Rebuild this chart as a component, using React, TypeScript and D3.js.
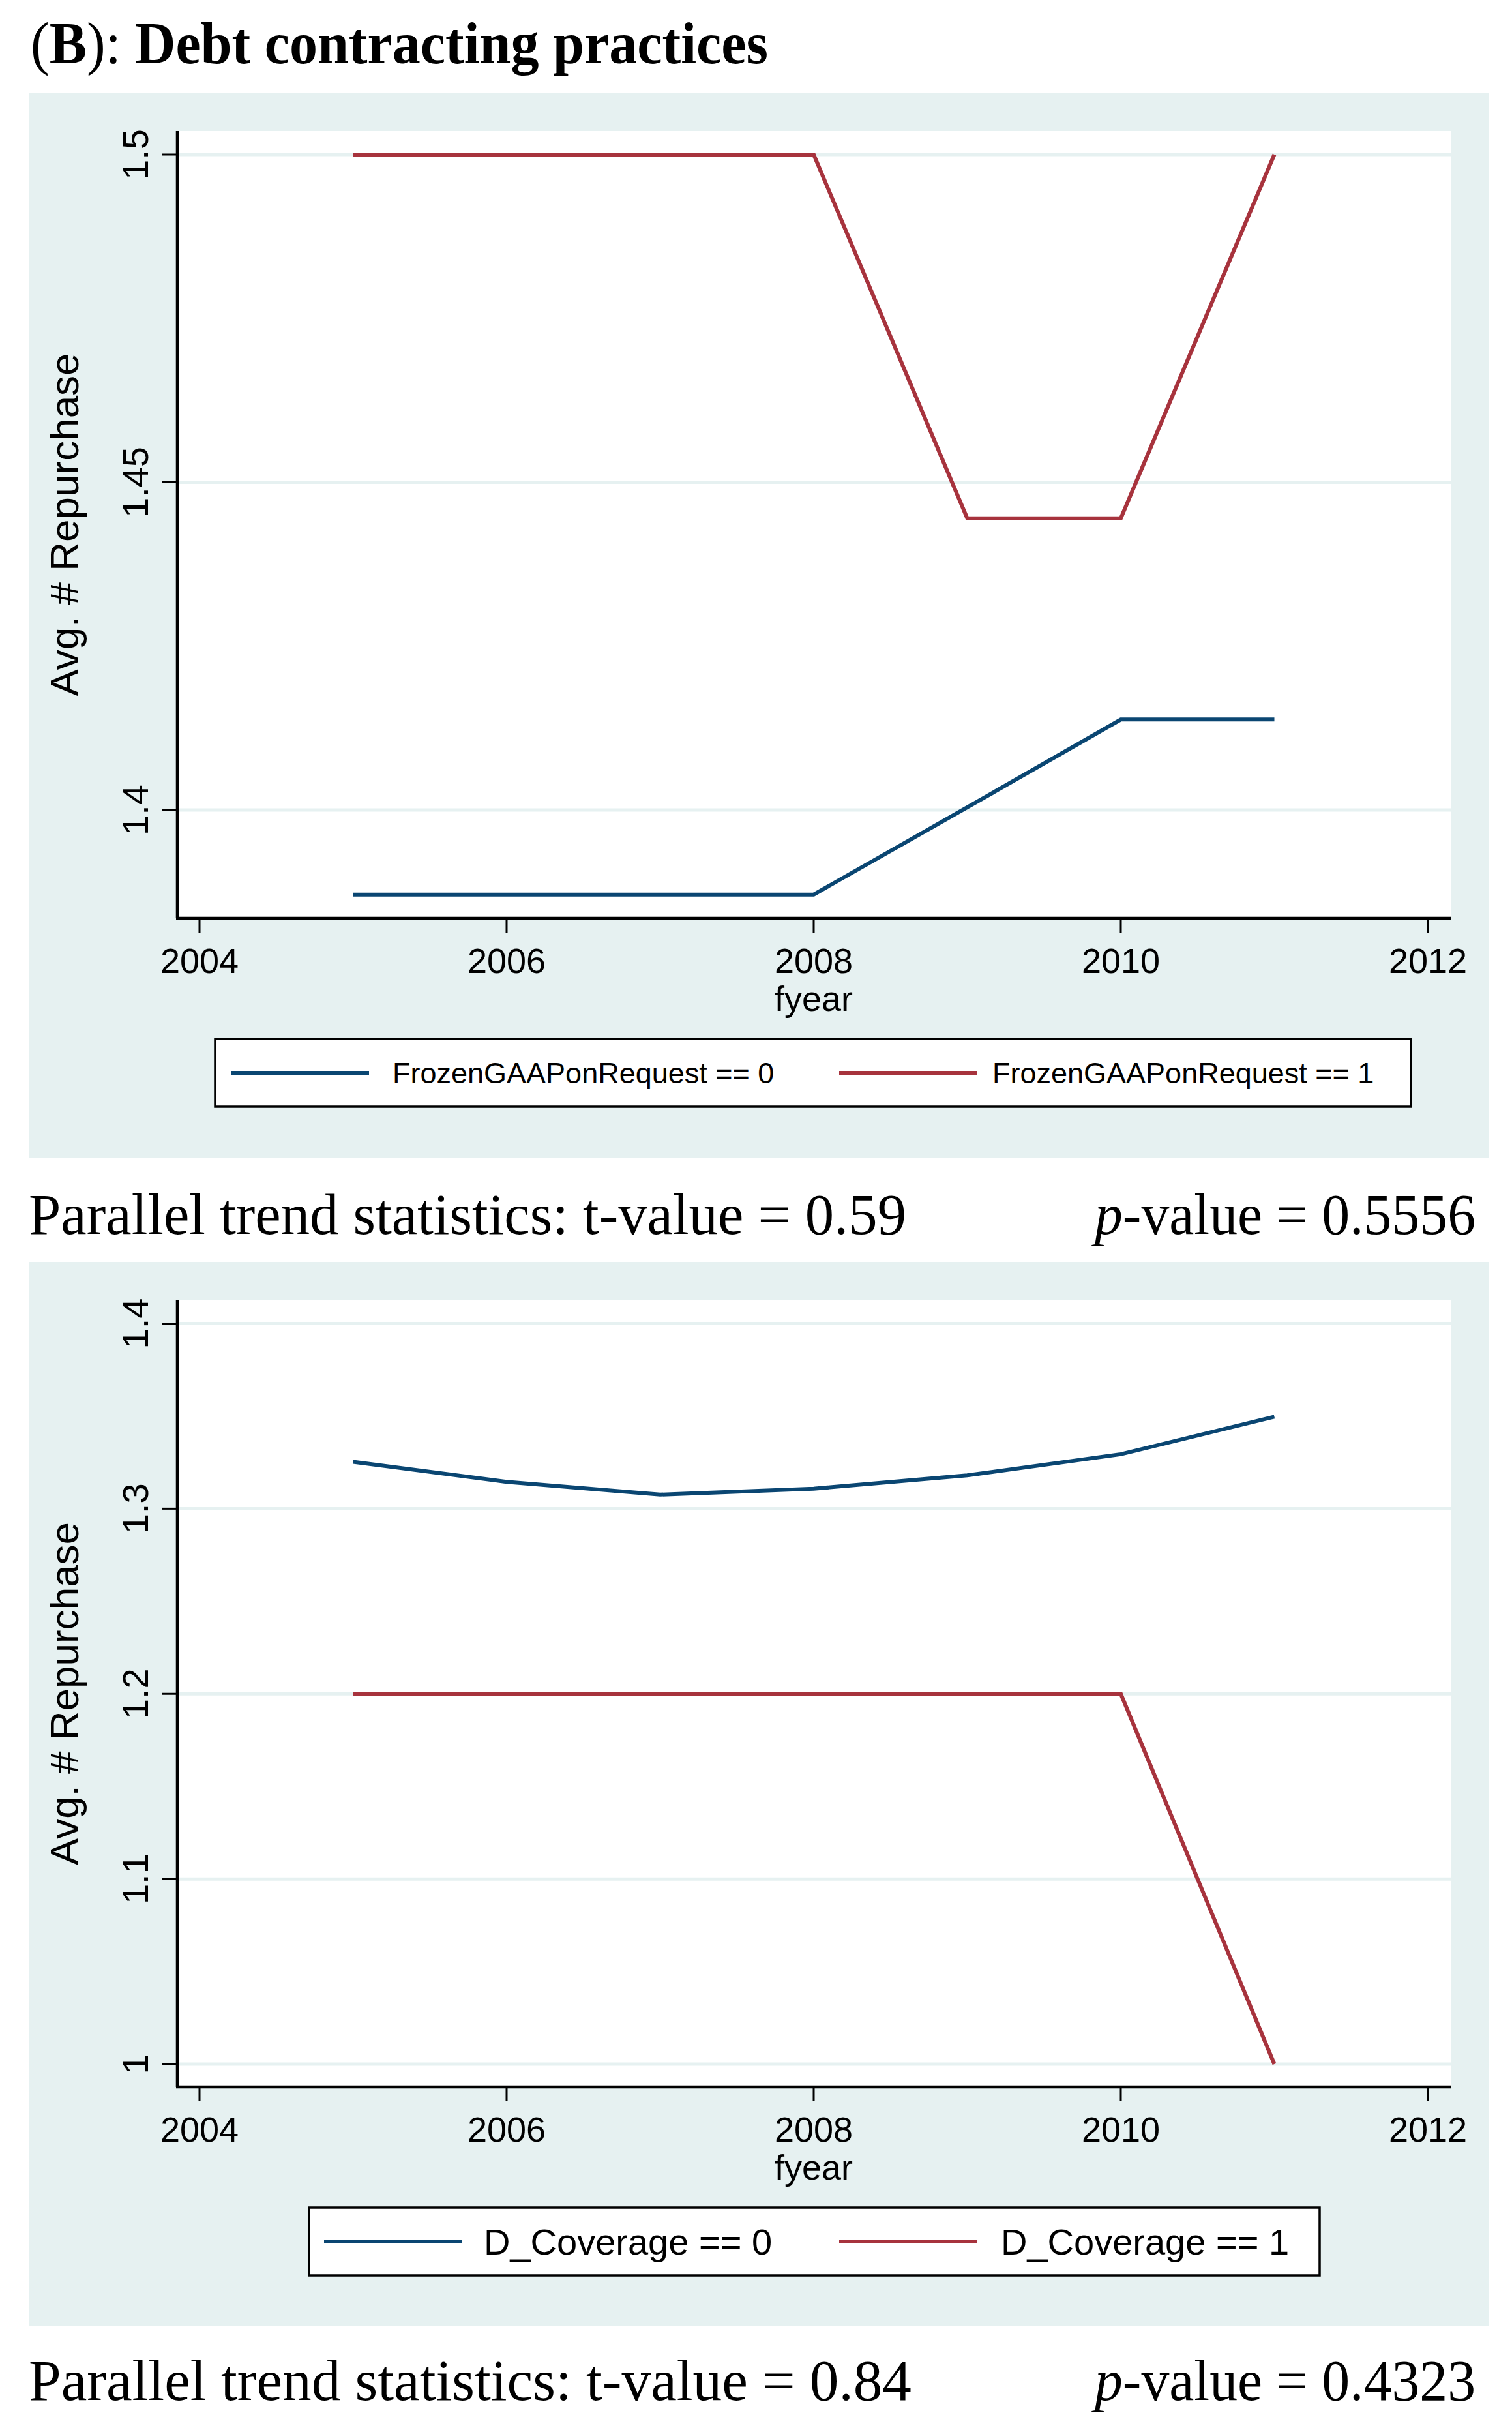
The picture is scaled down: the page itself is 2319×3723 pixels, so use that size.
import React from "react";
import * as d3 from "d3";

// years on the x axis
const years = [2005, 2006, 2007, 2008, 2009, 2010, 2011];
const xTicks = [2004, 2006, 2008, 2010, 2012];

// panel 1: FrozenGAAPonRequest
const frozen0 = [1.3871, 1.3871, 1.3871, 1.3871, 1.4004, 1.4138, 1.4138];
const frozen1 = [1.5, 1.5, 1.5, 1.5, 1.4445, 1.4445, 1.5];
const yTicksTop = [1.4, 1.45, 1.5];
const yTickLabelsTop = ["1.4", "1.45", "1.5"];
const legendTop = ["FrozenGAAPonRequest == 0", "FrozenGAAPonRequest == 1"];
const statsTop = ["0.59", "0.5556"];

// panel 2: D_Coverage
const coverage0 = [1.3253, 1.3145, 1.3076, 1.3108, 1.318, 1.3294, 1.3497];
const coverage1 = [1.2, 1.2, 1.2, 1.2, 1.2, 1.2, 1.0];
const yTicksBottom = [1.0, 1.1, 1.2, 1.3, 1.4];
const yTickLabelsBottom = ["1", "1.1", "1.2", "1.3", "1.4"];
const legendBottom = ["D_Coverage == 0", "D_Coverage == 1"];
const statsBottom = ["0.84", "0.4323"];

const BG = "#e6f1f1";
const NAVY = "#0a4672";
const MAROON = "#a7333d";
const SANS = "'Liberation Sans', Arial, sans-serif";
const SERIF = "'Liberation Serif', 'Times New Roman', serif";

interface PanelProps {
  top: number; // y of panel background
  bgBottom: number;
  plotTop: number;
  plotBottom: number;
  yDomain: [number, number];
  yRange: [number, number];
  yTicks: number[];
  yLabels: string[];
  s0: number[];
  s1: number[];
  legend: string[];
  legendBox: { x0: number; x1: number; y0: number; y1: number };
  legendFont: number;
  legendItems: { l0: number; l1: number; t: number }[];
  stats: string[];
  statsY: number;
  statsWidth: number;
}

const plotLeft = 272;
const plotRight = 2226;
const xScale = d3.scaleLinear().domain([2004, 2012]).range([306, 2190]);

const Panel: React.FC<PanelProps> = (p) => {
  const y = d3.scaleLinear().domain(p.yDomain).range(p.yRange);
  const line = d3
    .line<number>()
    .x((_, i) => xScale(years[i]))
    .y((d) => y(d));
  const midY = (p.plotTop + p.plotBottom) / 2;
  const lb = p.legendBox;
  const legendY = (lb.y0 + lb.y1) / 2;
  const colors = [NAVY, MAROON];

  return (
    <g>
      <rect x={44} y={p.top} width={2283 - 44} height={p.bgBottom - p.top} fill={BG} />
      <rect
        x={plotLeft}
        y={p.plotTop}
        width={plotRight - plotLeft}
        height={p.plotBottom - p.plotTop}
        fill="#fff"
      />
      {/* grid */}
      {p.yTicks.map((t) => (
        <line
          key={"g" + t}
          x1={plotLeft}
          x2={plotRight}
          y1={y(t)}
          y2={y(t)}
          stroke={BG}
          strokeWidth={5}
        />
      ))}
      {/* series */}
      <path d={line(p.s0) ?? ""} fill="none" stroke={NAVY} strokeWidth={6} strokeLinejoin="miter" />
      <path d={line(p.s1) ?? ""} fill="none" stroke={MAROON} strokeWidth={6} strokeLinejoin="miter" />
      {/* y axis */}
      <line x1={plotLeft} x2={plotLeft} y1={p.plotTop} y2={p.plotBottom} stroke="#000" strokeWidth={4.5} />
      {p.yTicks.map((t, i) => (
        <g key={"y" + t}>
          <line x1={248} x2={plotLeft} y1={y(t)} y2={y(t)} stroke="#000" strokeWidth={3} />
          <text
            transform={`translate(227,${y(t)}) rotate(-90)`}
            textAnchor="middle"
            fontFamily={SANS}
            fontSize={56}
          >
            {p.yLabels[i]}
          </text>
        </g>
      ))}
      <text
        transform={`translate(120,${midY}) rotate(-90)`}
        textAnchor="middle"
        fontFamily={SANS}
        fontSize={62}
      >
        Avg. # Repurchase
      </text>
      {/* x axis */}
      <line x1={plotLeft - 2} x2={plotRight} y1={p.plotBottom} y2={p.plotBottom} stroke="#000" strokeWidth={4.5} />
      {xTicks.map((t) => (
        <g key={"x" + t}>
          <line
            x1={xScale(t)}
            x2={xScale(t)}
            y1={p.plotBottom}
            y2={p.plotBottom + 22}
            stroke="#000"
            strokeWidth={3}
          />
          <text x={xScale(t)} y={p.plotBottom + 84} textAnchor="middle" fontFamily={SANS} fontSize={54}>
            {t}
          </text>
        </g>
      ))}
      <text x={xScale(2008)} y={p.plotBottom + 142} textAnchor="middle" fontFamily={SANS} fontSize={54}>
        fyear
      </text>
      {/* legend */}
      <rect
        x={lb.x0}
        y={lb.y0}
        width={lb.x1 - lb.x0}
        height={lb.y1 - lb.y0}
        fill="#fff"
        stroke="#000"
        strokeWidth={3.5}
      />
      {p.legendItems.map((it, i) => (
        <g key={"l" + i}>
          <line x1={it.l0} x2={it.l1} y1={legendY} y2={legendY} stroke={colors[i]} strokeWidth={6} />
          <text x={it.t} y={legendY + p.legendFont * 0.36} fontFamily={SANS} fontSize={p.legendFont}>
            {p.legend[i]}
          </text>
        </g>
      ))}
      {/* parallel trend statistics */}
      <text x={44} y={p.statsY} fontFamily={SERIF} fontSize={88} textLength={p.statsWidth} lengthAdjust="spacingAndGlyphs">
        {`Parallel trend statistics: t-value = ${p.stats[0]}`}
      </text>
      <text x={1679} y={p.statsY} fontFamily={SERIF} fontSize={88} textLength={584} lengthAdjust="spacingAndGlyphs">
        <tspan fontStyle="italic">p</tspan>
        {`-value = ${p.stats[1]}`}
      </text>
    </g>
  );
};

const App: React.FC = () => {
  return (
    <svg
      width={2319}
      height={3723}
      style={{ position: "absolute", left: 0, top: 0, background: "#fff" }}
    >
      <text x={47} y={97} fontFamily={SERIF} fontSize={92} textLength={1131} lengthAdjust="spacingAndGlyphs">
        <tspan>(</tspan>
        <tspan fontWeight="bold">B</tspan>
        <tspan>): </tspan>
        <tspan fontWeight="bold">Debt contracting practices</tspan>
      </text>
      <Panel
        top={143}
        bgBottom={1775}
        plotTop={201}
        plotBottom={1408}
        yDomain={[1.4, 1.5]}
        yRange={[1242, 237]}
        yTicks={yTicksTop}
        yLabels={yTickLabelsTop}
        s0={frozen0}
        s1={frozen1}
        legend={legendTop}
        legendBox={{ x0: 330, x1: 2164, y0: 1593, y1: 1697 }}
        legendFont={45}
        legendItems={[
          { l0: 354, l1: 566, t: 602 },
          { l0: 1287, l1: 1499, t: 1522 },
        ]}
        stats={statsTop}
        statsY={1892}
        statsWidth={1346}
      />
      <Panel
        top={1935}
        bgBottom={3567}
        plotTop={1994}
        plotBottom={3200}
        yDomain={[1.0, 1.4]}
        yRange={[3165, 2029.5]}
        yTicks={yTicksBottom}
        yLabels={yTickLabelsBottom}
        s0={coverage0}
        s1={coverage1}
        legend={legendBottom}
        legendBox={{ x0: 474, x1: 2024, y0: 3385, y1: 3489 }}
        legendFont={56}
        legendItems={[
          { l0: 497, l1: 709, t: 742 },
          { l0: 1287, l1: 1499, t: 1535 },
        ]}
        stats={statsBottom}
        statsY={3680}
        statsWidth={1354}
      />
    </svg>
  );
};

export default App;
